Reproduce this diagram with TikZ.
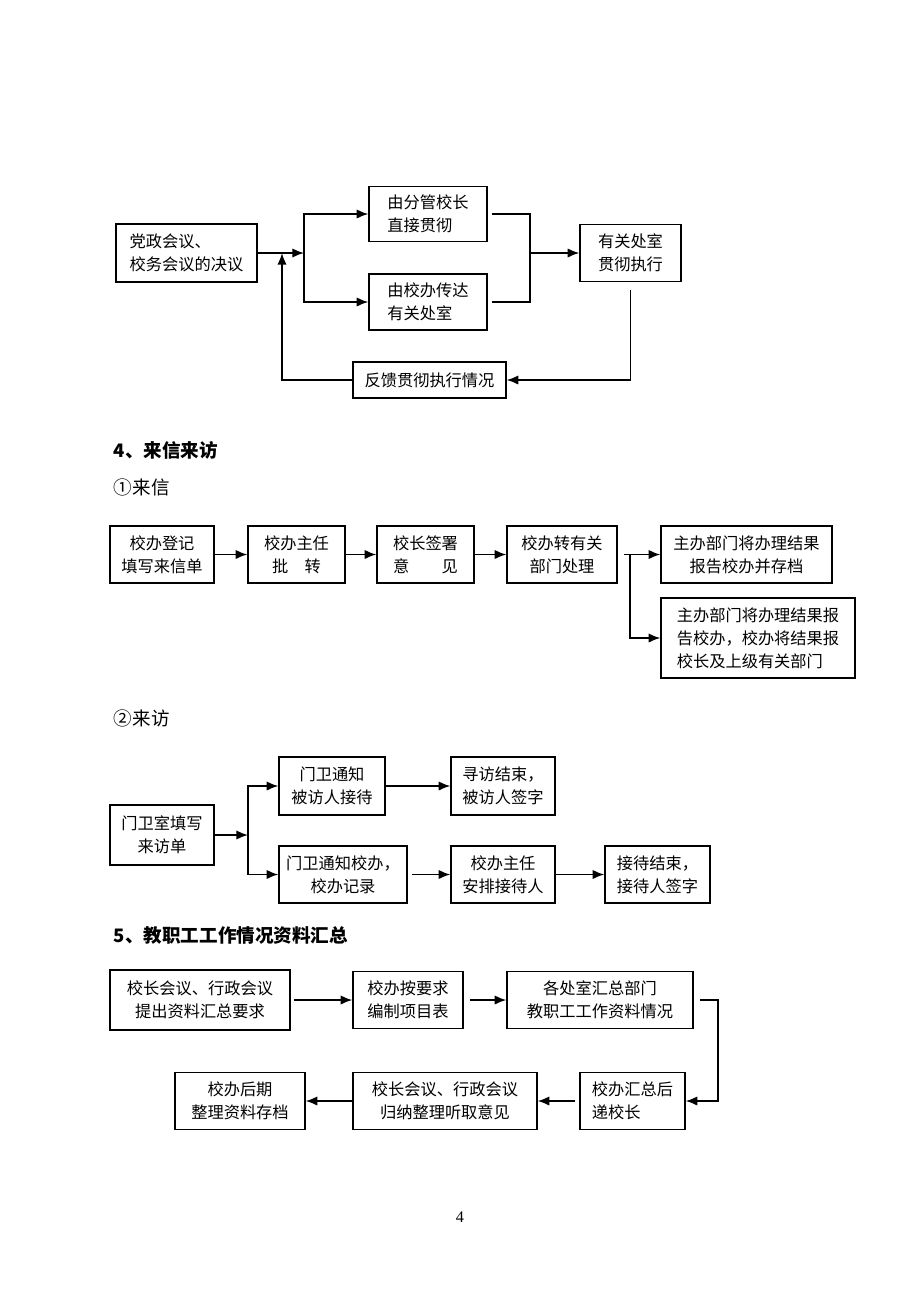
\documentclass[tikz,border=0pt]{standalone}
\usepackage{fontspec}
\setmainfont{Noto Sans CJK SC}
\newfontfamily\numfont{Liberation Serif}
\usetikzlibrary{arrows.meta}
\newcommand{\px}{0.6467pt}

\begin{document}
\begin{tikzpicture}[x=\px, y=-\px, >={Latex[length=7.5pt,width=6pt]}, line width=1pt,
  blk/.style 2 args={draw, rectangle, line width=0.9pt, minimum width=#1*\px, minimum height=#2*\px,
    inner sep=2pt, align=center, font=\fontsize{10.5pt}{15pt}\selectfont},
  hd/.style={anchor=west, font=\fontsize{12pt}{14pt}\selectfont\bfseries},
  sub/.style={anchor=west, font=\fontsize{12pt}{14pt}\selectfont}]
\useasboundingbox (0,0) rectangle (920,1302);

% 决议贯彻
\node[blk={141}{58}, align=left] (jy) at (186.5,253) {党政会议、\\校务会议的决议};
\node[blk={118}{55}, align=left] (fg) at (428,214) {由分管校长\\直接贯彻};
\node[blk={118}{56}, align=left] (cd) at (428,302) {由校办传达\\有关处室};
\node[blk={101}{57}] (zx) at (630.5,253) {有关处室\\贯彻执行};
\node[blk={153}{36}] (fk) at (429.5,380) {反馈贯彻执行情况};
\coordinate (j1) at (304,0);
\coordinate (j2) at (530,0);
\coordinate (j3) at (282,0);
\draw[->] (jy.east) -- (jy.east -| j1);
\draw[<->] (fg.west) -- (fg.west -| j1) |- (cd.west);
\draw[shorten <=3pt, shorten >=3pt] (fg.east) -- (fg.east -| j2) |- (cd.east);
\draw[->] (zx.west -| j2) -- (zx.west);
\draw[->, shorten <=5pt] (zx.south) |- (fk.east);
\draw[->] (fk.west) -| (jy.east -| j3);

% 来信
\node[hd] (t4) at (108,450) {4、来信来访};
\node[sub] (lx) at (108,487) {①来信};
\node[blk={104}{57}] (dj) at (162,554.5) {校办登记\\填写来信单};
\node[blk={97}{57}] (zr) at (296.5,554.5) {校办主任\\批　转};
\node[blk={97}{57}] (qs) at (425.5,554.5) {校长签署\\意　　见};
\node[blk={110}{57}] (zy) at (562,554.5) {校办转有关\\部门处理};
\node[blk={171}{57}] (bc) at (746.5,554.5) {主办部门将办理结果\\报告校办并存档};
\node[blk={194}{80}, align=left] (bg) at (758,638) {主办部门将办理结果报\\告校办，校办将结果报\\校长及上级有关部门};
\coordinate (j4) at (630,0);
\draw[->] (dj) -- (zr);
\draw[->] (zr) -- (qs);
\draw[->] (qs) -- (zy);
\draw[->, shorten <=4pt] (zy) -- (bc);
\draw[->] (zy.east -| j4) |- (bg.west);

% 来访
\node[sub] (lf) at (108,718) {②来访};
\node[blk={104}{60}] (mw) at (162,835) {门卫室填写\\来访单};
\node[blk={106}{58}] (tz) at (332,786) {门卫通知\\被访人接待};
\node[blk={104}{58}] (xf) at (503,786) {寻访结束，\\被访人签字};
\node[blk={128}{57}] (tx) at (343,874.5) {门卫通知校办，\\校办记录};
\node[blk={104}{57}] (ap) at (503,874.5) {校办主任\\安排接待人};
\node[blk={105}{57}] (jd) at (657.5,874.5) {接待结束，\\接待人签字};
\coordinate (j5) at (248,0);
\draw[->] (mw.east) -- (mw.east -| j5);
\draw[<->] (tz.west) -- (tz.west -| j5) |- (tx.west);
\draw[->] (tz) -- (xf);
\draw[->, shorten <=3pt] (tx) -- (ap);
\draw[->] (ap) -- (jd);

% 资料汇总
\node[hd] (t5) at (108,935) {5、教职工工作情况资料汇总};
\node[blk={180}{60}] (hy) at (200,1000) {校长会议、行政会议\\提出资料汇总要求};
\node[blk={110}{57}] (bz) at (408,1000) {校办按要求\\编制项目表};
\node[blk={186}{57}] (gc) at (600,1000) {各处室汇总部门\\教职工工作资料情况};
\node[blk={105}{57}, align=left] (hz) at (632.5,1101) {校办汇总后\\递校长};
\node[blk={184}{57}] (gn) at (445,1101) {校长会议、行政会议\\归纳整理听取意见};
\node[blk={130}{57}] (hq) at (240,1101) {校办后期\\整理资料存档};
\coordinate (j6) at (718,0);
\draw[->, shorten <=2pt] (hy) -- (bz);
\draw[->, shorten <=4pt] (bz) -- (gc);
\draw[->, shorten <=4pt] (gc.east) -- (gc.east -| j6) |- (hz.east);
\draw[->, shorten <=3pt] (hz) -- (gn);
\draw[->] (gn) -- (hq);

\node[font=\numfont\fontsize{10.5pt}{12pt}\selectfont] (pg) at (460,1217) {4};
\end{tikzpicture}
\end{document}
